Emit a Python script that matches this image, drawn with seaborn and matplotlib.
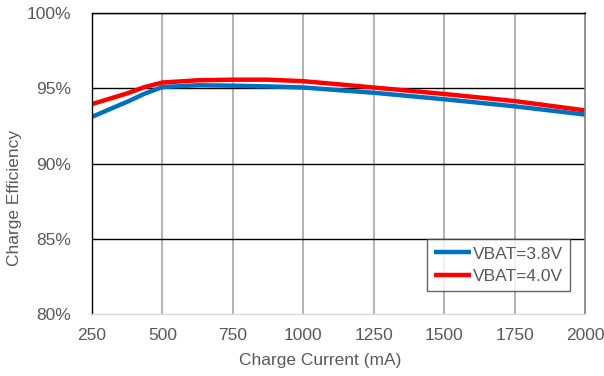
import matplotlib
matplotlib.use("Agg")
import matplotlib.pyplot as plt
import seaborn as sns
import pandas as pd
from matplotlib.ticker import FuncFormatter

# Charge current (mA) sample points
current_ma = [250, 312, 375, 437, 500, 625, 750, 875, 1000, 1250, 1500, 1750, 2000]
# Charge efficiency (%) for each battery voltage
eff_38v = [93.1, 93.6, 94.1, 94.64, 95.08, 95.2, 95.17, 95.12, 95.05, 94.7, 94.27, 93.8, 93.25]
eff_40v = [93.95, 94.3, 94.66, 95.08, 95.38, 95.53, 95.57, 95.57, 95.47, 95.05, 94.62, 94.15, 93.53]
series_labels = ["VBAT=3.8V", "VBAT=4.0V"]
series_colors = ["#0070C0", "#FF0000"]
x_ticks = [250, 500, 750, 1000, 1250, 1500, 1750, 2000]
y_ticks = [80, 85, 90, 95, 100]

df = pd.DataFrame({
    "current": current_ma * 2,
    "eff": eff_38v + eff_40v,
    "series": [series_labels[0]] * len(current_ma) + [series_labels[1]] * len(current_ma),
})

sns.set_style("white")
plt.rcParams["font.family"] = ["Liberation Sans", "DejaVu Sans"]
text_color = "#595959"
fs = 12.5

W, H = 604, 376
fig = plt.figure(figsize=(W / 100, H / 100), dpi=100)
ax = fig.add_axes([92 / W, 62 / H, 493 / W, 301 / H])

# gridlines: gray verticals, black horizontals
for xv in x_ticks[1:-1]:
    ax.axvline(xv, color="#A6A6A6", lw=1.2, zorder=0)
for yv in y_ticks[1:]:
    ax.axhline(yv, color="black", lw=1.0, zorder=0)

sns.lineplot(data=df, x="current", y="eff", hue="series", palette=series_colors,
             linewidth=3.2, ax=ax, sort=True, estimator=None)
for ln in ax.get_lines():
    ln.set_solid_joinstyle("round")
    ln.set_solid_capstyle("butt")

ax.set_xlim(250, 2000)
ax.set_ylim(80, 100)
ax.set_xticks(x_ticks)
ax.set_yticks(y_ticks)
ax.yaxis.set_major_formatter(FuncFormatter(lambda v, p: f"{v:.0f}%"))
ax.tick_params(axis="both", length=0, labelsize=fs, labelcolor=text_color)
ax.tick_params(axis="x", pad=10)
ax.tick_params(axis="y", pad=15)

for side in ["left", "top"]:
    ax.spines[side].set_color("black")
    ax.spines[side].set_linewidth(1.0)
ax.spines["right"].set_color("#7F7F7F")
ax.spines["right"].set_linewidth(1.2)
ax.spines["bottom"].set_color("#D9D9D9")
ax.spines["bottom"].set_linewidth(1.0)

ax.set_xlabel("")
ax.set_ylabel("")
fig.text(320 / W, 1 - 361 / H, "Charge Current (mA)", fontsize=fs, color=text_color,
         ha="center", va="center")
fig.text(15 / W, 1 - 198 / H, "Charge Efficiency", fontsize=fs, color=text_color,
         ha="center", va="center", rotation=90)

leg = ax.legend(loc="lower right", bbox_to_anchor=(0.97, 0.075), fontsize=fs,
                frameon=True, fancybox=False, handlelength=2.1, handletextpad=0.15,
                borderpad=0.4, labelspacing=0.45, borderaxespad=0)
leg.get_frame().set_edgecolor("#404040")
leg.get_frame().set_linewidth(1.0)
for t in leg.get_texts():
    t.set_color(text_color)

fig.savefig("out.png", dpi=100)
